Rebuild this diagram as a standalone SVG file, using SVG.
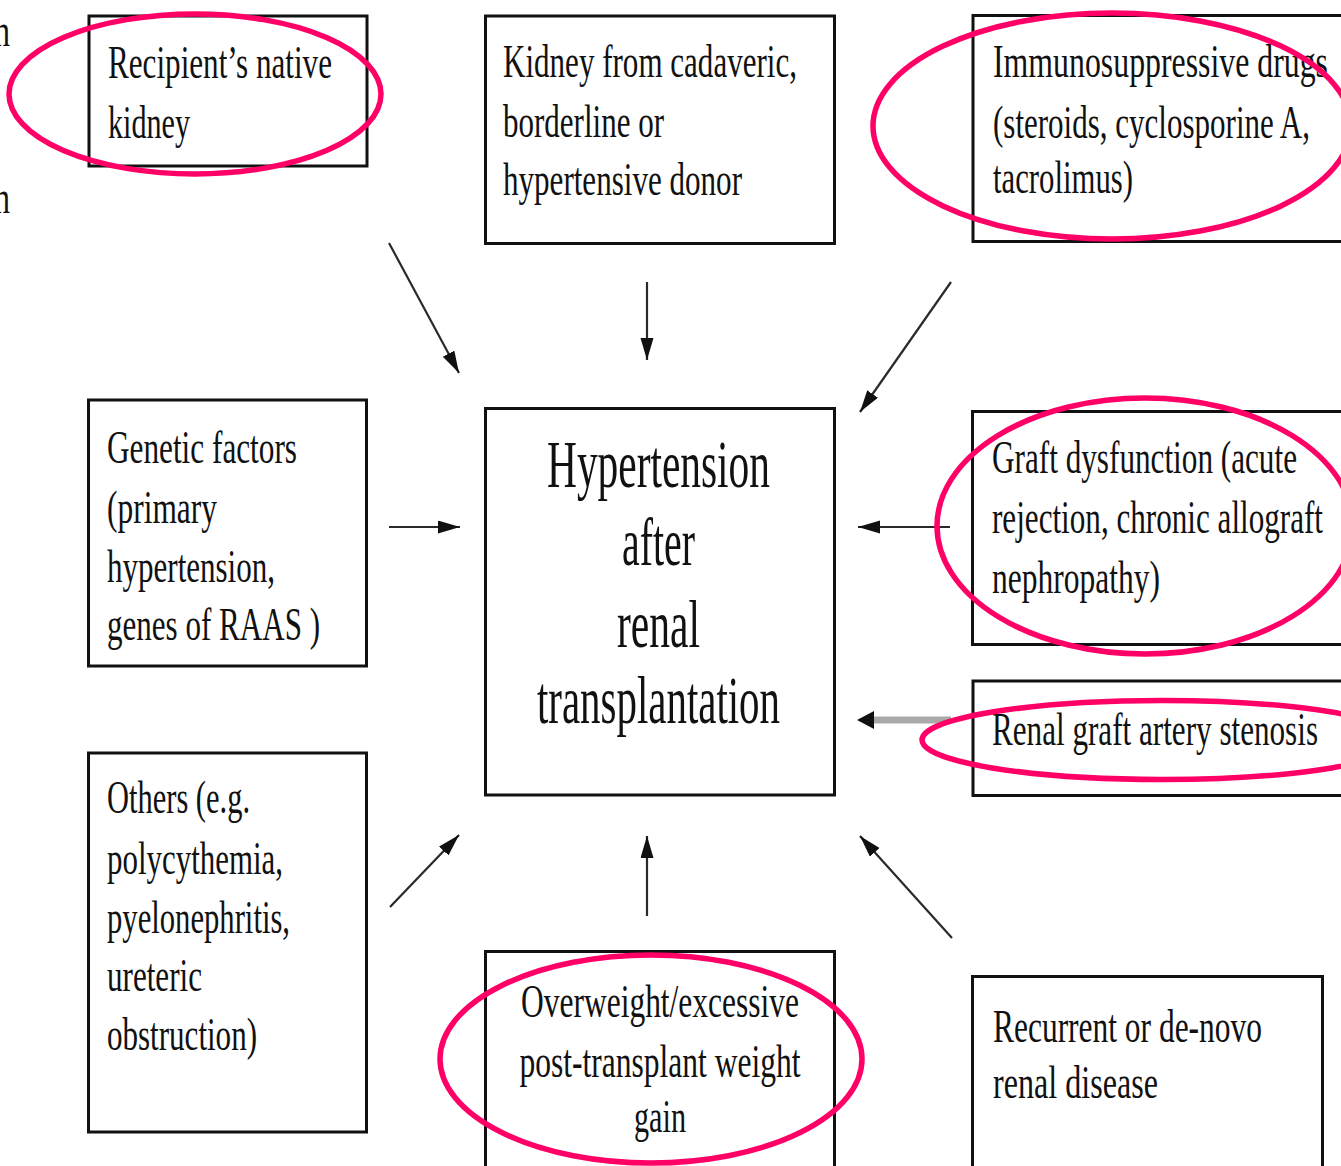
<svg xmlns="http://www.w3.org/2000/svg" width="1341" height="1166" viewBox="0 0 1341 1166">
<style>
.box{fill:#fff;stroke:#111;stroke-width:3}
.t{font-family:"Liberation Serif","Times New Roman",serif;font-size:46px;fill:#111}
.tc{font-family:"Liberation Serif","Times New Roman",serif;font-size:67px;fill:#111;text-anchor:middle}
.mid{text-anchor:middle}
.conn{stroke:#2a2a2a;stroke-width:2.2;fill:none}
.ring{fill:none;stroke:#ff0066;stroke-width:5.5}
</style>
<defs>
<marker id="ah" markerUnits="userSpaceOnUse" markerWidth="24" markerHeight="14" refX="22" refY="6.5" orient="auto">
<path d="M0,0 L22,6.5 L0,13 z" fill="#111"/>
</marker>
</defs>
<rect width="1341" height="1166" fill="#fff"/>

<g id="edge-text">
<text class="t" x="-6" y="46" textLength="16" lengthAdjust="spacingAndGlyphs">n</text>
<text class="t" x="-6" y="213" textLength="16" lengthAdjust="spacingAndGlyphs">n</text>
</g>

<g id="node-native">
<rect class="box" x="89" y="16" width="278" height="150"/>
<text class="t" x="108" y="78" textLength="224" lengthAdjust="spacingAndGlyphs">Recipient’s native</text>
<text class="t" x="108" y="138" textLength="82" lengthAdjust="spacingAndGlyphs">kidney</text>
</g>

<g id="node-donor">
<rect class="box" x="485.5" y="16" width="349" height="227.5"/>
<text class="t" x="503" y="77" textLength="294" lengthAdjust="spacingAndGlyphs">Kidney from cadaveric,</text>
<text class="t" x="503" y="137" textLength="161" lengthAdjust="spacingAndGlyphs">borderline or</text>
<text class="t" x="503" y="195" textLength="239" lengthAdjust="spacingAndGlyphs">hypertensive donor</text>
</g>

<g id="node-immuno">
<rect class="box" x="973" y="15.5" width="400" height="226"/>
<text class="t" x="993" y="77" textLength="335" lengthAdjust="spacingAndGlyphs">Immunosuppressive drugs</text>
<text class="t" x="993" y="138" textLength="317" lengthAdjust="spacingAndGlyphs">(steroids, cyclosporine A,</text>
<text class="t" x="993" y="193" textLength="140" lengthAdjust="spacingAndGlyphs">tacrolimus)</text>
</g>

<g id="node-genetic">
<rect class="box" x="88.5" y="400" width="278" height="266"/>
<text class="t" x="107" y="463" textLength="190" lengthAdjust="spacingAndGlyphs">Genetic factors</text>
<text class="t" x="107" y="523" textLength="110" lengthAdjust="spacingAndGlyphs">(primary</text>
<text class="t" x="107" y="582" textLength="168" lengthAdjust="spacingAndGlyphs">hypertension,</text>
<text class="t" x="107" y="640" textLength="213" lengthAdjust="spacingAndGlyphs">genes of RAAS )</text>
</g>

<g id="node-center">
<rect class="box" x="485.5" y="408.5" width="349" height="386.5"/>
<text class="tc" x="658.5" y="487" textLength="223" lengthAdjust="spacingAndGlyphs">Hypertension</text>
<text class="tc" x="658.5" y="565" textLength="73" lengthAdjust="spacingAndGlyphs">after</text>
<text class="tc" x="658.5" y="647" textLength="83" lengthAdjust="spacingAndGlyphs">renal</text>
<text class="tc" x="658.5" y="723" textLength="243" lengthAdjust="spacingAndGlyphs">transplantation</text>
</g>

<g id="node-graft">
<rect class="box" x="972.5" y="411.5" width="400" height="233"/>
<text class="t" x="992" y="473" textLength="305" lengthAdjust="spacingAndGlyphs">Graft dysfunction (acute</text>
<text class="t" x="992" y="533" textLength="331" lengthAdjust="spacingAndGlyphs">rejection, chronic allograft</text>
<text class="t" x="992" y="593" textLength="168" lengthAdjust="spacingAndGlyphs">nephropathy)</text>
</g>

<g id="node-stenosis">
<rect class="box" x="973" y="681" width="400" height="114.5"/>
<text class="t" x="992" y="745" textLength="326" lengthAdjust="spacingAndGlyphs">Renal graft artery stenosis</text>
</g>

<g id="node-others">
<rect class="box" x="88.5" y="753" width="278" height="379"/>
<text class="t" x="107" y="813" textLength="143" lengthAdjust="spacingAndGlyphs">Others (e.g.</text>
<text class="t" x="107" y="874" textLength="176" lengthAdjust="spacingAndGlyphs">polycythemia,</text>
<text class="t" x="107" y="933" textLength="183" lengthAdjust="spacingAndGlyphs">pyelonephritis,</text>
<text class="t" x="107" y="991" textLength="95" lengthAdjust="spacingAndGlyphs">ureteric</text>
<text class="t" x="107" y="1050" textLength="150" lengthAdjust="spacingAndGlyphs">obstruction)</text>
</g>

<g id="node-weight">
<rect class="box" x="485.5" y="951.5" width="349" height="300"/>
<text class="t mid" x="660" y="1017" textLength="278" lengthAdjust="spacingAndGlyphs">Overweight/excessive</text>
<text class="t mid" x="660" y="1077" textLength="281" lengthAdjust="spacingAndGlyphs">post-transplant weight</text>
<text class="t mid" x="660" y="1132" textLength="52" lengthAdjust="spacingAndGlyphs">gain</text>
</g>

<g id="node-recurrent">
<rect class="box" x="972.5" y="976.5" width="350" height="300"/>
<text class="t" x="993" y="1042" textLength="269" lengthAdjust="spacingAndGlyphs">Recurrent or de-novo</text>
<text class="t" x="993" y="1098" textLength="165" lengthAdjust="spacingAndGlyphs">renal disease</text>
</g>

<g id="connectors">
<line class="conn" x1="389" y1="243" x2="459" y2="373" marker-end="url(#ah)"/>
<line class="conn" x1="647" y1="282" x2="647" y2="360" stroke="#111" stroke-width="2.6" marker-end="url(#ah)"/>
<line class="conn" x1="951" y1="282" x2="860" y2="412" marker-end="url(#ah)"/>
<line class="conn" x1="389" y1="527" x2="460" y2="527" marker-end="url(#ah)"/>
<line class="conn" x1="950" y1="527" x2="858" y2="527" marker-end="url(#ah)"/>
<line x1="951" y1="720" x2="872" y2="720" stroke="#aaa" stroke-width="7"/>
<polygon points="857,720 874,711 874,729" fill="#111"/>
<line class="conn" x1="390" y1="907" x2="459" y2="835" marker-end="url(#ah)"/>
<line class="conn" x1="647" y1="916" x2="647" y2="836" stroke="#111" stroke-width="2.6" marker-end="url(#ah)"/>
<line class="conn" x1="952" y1="938" x2="860" y2="836" marker-end="url(#ah)"/>
</g>

<g id="highlights">
<ellipse class="ring" cx="195" cy="94" rx="186" ry="80"/>
<ellipse class="ring" cx="1112" cy="126" rx="239" ry="113"/>
<ellipse class="ring" cx="1145" cy="526" rx="208" ry="128"/>
<ellipse class="ring" cx="1162" cy="740" rx="240" ry="39.5"/>
<ellipse class="ring" cx="651" cy="1059" rx="211" ry="104"/>
</g>
</svg>
